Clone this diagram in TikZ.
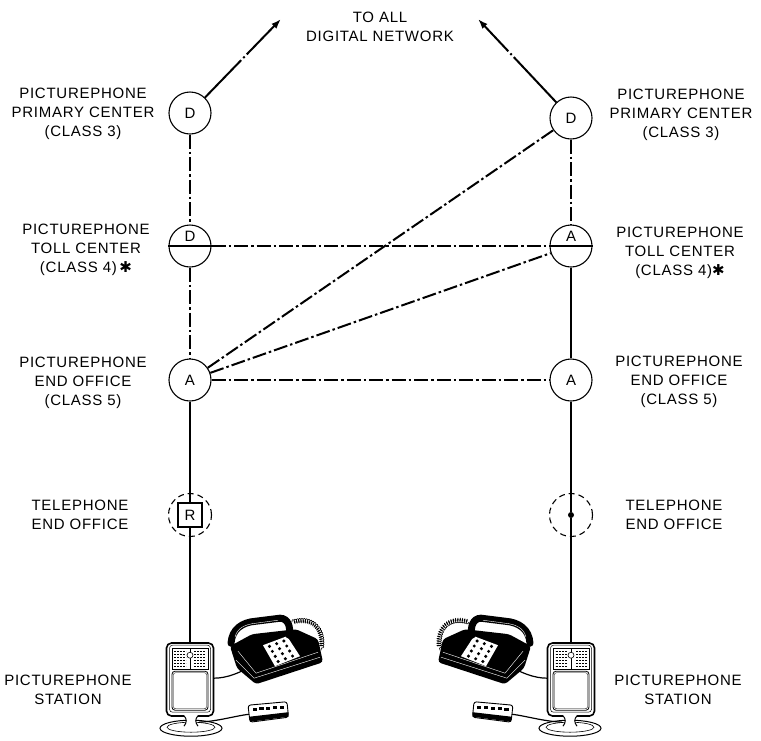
\documentclass[tikz,border=0pt]{standalone}
\usepackage{fontspec}
\setmainfont{Liberation Sans}[LetterSpace=5]
\newfontfamily\symfont{DejaVu Sans}
\usetikzlibrary{arrows.meta,decorations.pathmorphing,shapes.geometric}
\newcommand{\heavyast}{\raisebox{0.5pt}{\symfont\fontsize{15}{15}\selectfont ✱}}
\tikzset{
  lbl/.style={align=center, font=\fontsize{15}{19}\selectfont, inner sep=0pt},
  office/.style={circle, draw, line width=1.1pt, minimum size=42pt, inner sep=0pt, fill=white, font=\fontsize{15}{15}\selectfont},
  halfletter/.style={inner sep=0pt, font=\fontsize{15}{15}\selectfont},
  teloffice/.style={circle, draw, line width=1.1pt, dash pattern=on 6pt off 4pt, minimum size=43pt, inner sep=0pt},
  rbox/.style={rectangle, draw, line width=1.3pt, fill=white, minimum size=24pt, inner sep=0pt, font=\fontsize{15}{15}\selectfont},
  tdot/.style={circle, fill=black, minimum size=6pt, inner sep=0pt},
  trunk/.style={line width=2pt, dash pattern=on 14pt off 3pt on 2.5pt off 3pt},
  loopline/.style={line width=2pt},
  uplink/.style={line width=2pt, -{Latex[length=10pt,width=7pt]}},
  monitor/.style={rectangle, draw, line width=1.6pt, rounded corners=5pt, fill=white, minimum width=47pt, minimum height=73pt, inner sep=0pt},
  station/.pic={
    % bezel
    \draw[line width=0.5pt, rounded corners=3pt] (-20.5,3) rectangle (20.5,70);
    % top panel
    \draw[line width=0.5pt] (-18,6) rectangle (18,27);
    \draw[line width=0.4pt] (0,6) -- (0,27);
    \draw[line width=0.6pt, fill=white] (0,13) circle[radius=3pt];
    \foreach \yy in {9,12,15,18,21,24} {
      \draw[line width=0.5pt, dash pattern=on 2pt off 1pt] (-16,\yy) -- (-4,\yy);
      \draw[line width=0.5pt, dash pattern=on 2pt off 1pt] (4,\yy) -- (16,\yy);
    }
    % screen
    \draw[line width=0.8pt, rounded corners=3pt] (-18,29) rectangle (18,68);
    \draw[line width=0.4pt, rounded corners=2pt] (-16.5,30.5) rectangle (16.5,66.5);
    % base and neck
    \draw[line width=1pt, fill=white] (1,86) ellipse[x radius=31pt, y radius=8pt];
    \draw[line width=0.6pt] (1,85) ellipse[x radius=24pt, y radius=5pt];
    \fill[white] (-6,73) .. controls (-3,77) and (-3,80) .. (-6,84) -- (8,84) .. controls (5,80) and (5,77) .. (8,73) -- cycle;
    \draw[line width=1pt] (-6,73.5) .. controls (-3,77) and (-3,80) .. (-6,84);
    \draw[line width=1pt] (8,73.5) .. controls (5,77) and (5,80) .. (8,84);
    % cords
    \draw[line width=1.2pt] (23.5,36) .. controls (38,36) and (50,30) .. (62,24);
    \draw[line width=1.2pt] (9,80) .. controls (28,79) and (44,74) .. (59,72);
    % control box
    \draw[line width=0.9pt, fill=white, rounded corners=2.5pt] (58,63) -- (97,59.5) -- (98.5,75) -- (60,80) -- cycle;
    \fill[black] (59.5,74.5) -- (98.3,70) -- (98.5,74.5) -- (60,79.5) -- cycle;
    \foreach \k in {0,...,4} {
      \fill[black] ({62.5+6.8*\k},{65.5-0.55*\k}) rectangle +(4.2,3.2);
    }
    % telephone body
    \fill[black, rounded corners=3pt] (40,4) -- (62,-8) -- (106,-13) -- (128,-3) -- (133,20) -- (66,42) -- (47,26) -- cycle;
    \draw[white, line width=0.4pt] (46,18) -- (64,36) -- (130,15);
    \draw[white, line width=0.4pt] (48,9) -- (66,31) -- (128,10);
    % keypad
    \fill[white] (73,3) -- (97,-6) -- (110,14) -- (85,24) -- cycle;
    \foreach \i in {0,1,2} {
      \foreach \j in {0,...,3} {
        \pgfmathsetmacro\uu{0.2+0.3*\i}
        \pgfmathsetmacro\vv{0.14+0.24*\j}
        \fill[black] ({73+24*\uu+12*\vv},{3-9*\uu+21*\vv}) circle[radius=1.7pt];
      }
    }
    % handset
    \draw[line width=7pt, line cap=round] (41,1) .. controls (42,-13) and (52,-20) .. (66,-21) -- (90,-24) .. controls (98,-24) and (101,-15) .. (99,-7);
    \draw[white, line width=0.4pt] (45,-5) .. controls (47,-14) and (55,-18) .. (66,-19) -- (88,-22);
    % coiled cord
    \draw[line width=0.6pt, decorate, decoration={coil, aspect=0.4, segment length=2.2pt, amplitude=2.2pt}] (102,-20) .. controls (125,-27) and (135,-10) .. (131,8);
  }
}
\begin{document}
\begin{tikzpicture}[x=1pt,y=-1pt]
\useasboundingbox (0,0) rectangle (761,740);

% offices
\node[office] (DL) at (190,113) {D};
\node[office] (DR) at (571,118) {D};
\node[office] (tollL) at (190,246) {};
\node[office] (tollR) at (571,246) {};
\node[halfletter] (tollLt) at (190,236) {D};
\node[halfletter] (tollRt) at (571,236) {A};
\node[office] (AL) at (190,380) {A};
\node[office] (AR) at (571,380) {A};
\node[teloffice] (telL) at (190,515) {};
\node[rbox] (RL) at (190,515) {R};
\node[teloffice] (telR) at (571,515) {};
\node[tdot] (dotR) at (571,515) {};
\node[monitor] (monL) at (190,679.5) {};
\node[monitor] (monR) at (571,679.5) {};
\coordinate (arrL) at (281,19);
\coordinate (arrR) at (478,19);

% diameters of toll circles
\draw[line width=1.1pt] (tollL.west) -- (tollL.east);
\draw[line width=1.1pt] (tollR.west) -- (tollR.east);

% connectors
\draw[uplink, dash pattern=on 52pt off 3pt on 2pt off 3pt] (DL) -- (arrL);
\draw[uplink, dash pattern=on 62pt off 3pt on 2pt off 3pt] (DR) -- (arrR);
\draw[trunk] (DL) -- (tollL);
\draw[trunk] (tollL) -- (AL);
\draw[trunk] (DR) -- (tollR);
\draw[loopline] (tollR) -- (AR);
\draw[trunk] (tollL.east) -- (tollR.west);
\draw[trunk] (AL) -- (DR);
\draw[trunk] (AL) -- (tollR);
\draw[trunk] (AL) -- (AR);
\draw[loopline] (AL) -- (RL);
\draw[loopline] (RL) -- (monL.north);
\draw[loopline] (AR) -- (dotR);
\draw[loopline] (dotR) -- (monR.north);

% stations
\pic at (monL.north) {station};
\pic[xscale=-1] at (monR.north) {station};

% labels
\node[lbl] (top) at (380,27) {TO ALL\\DIGITAL NETWORK};
\node[lbl] (lpc) at (83,114) {PICTUREPHONE\\PRIMARY CENTER\\(CLASS 3)};
\node[lbl] (rpc) at (681,115) {PICTUREPHONE\\PRIMARY CENTER\\(CLASS 3)};
\node[lbl] (ltc) at (86,250) {PICTUREPHONE\\TOLL CENTER\\(CLASS 4)\,\heavyast};
\node[lbl] (rtc) at (680,253) {PICTUREPHONE\\TOLL CENTER\\(CLASS 4)\heavyast};
\node[lbl] (leo) at (83,383) {PICTUREPHONE\\END OFFICE\\(CLASS 5)};
\node[lbl] (reo) at (679,382) {PICTUREPHONE\\END OFFICE\\(CLASS 5)};
\node[lbl] (lte) at (80,515) {TELEPHONE\\END OFFICE};
\node[lbl] (rte) at (674,515) {TELEPHONE\\END OFFICE};
\node[lbl] (lst) at (68,690) {PICTUREPHONE\\STATION};
\node[lbl] (rst) at (678,690) {PICTUREPHONE\\STATION};
\end{tikzpicture}
\end{document}
